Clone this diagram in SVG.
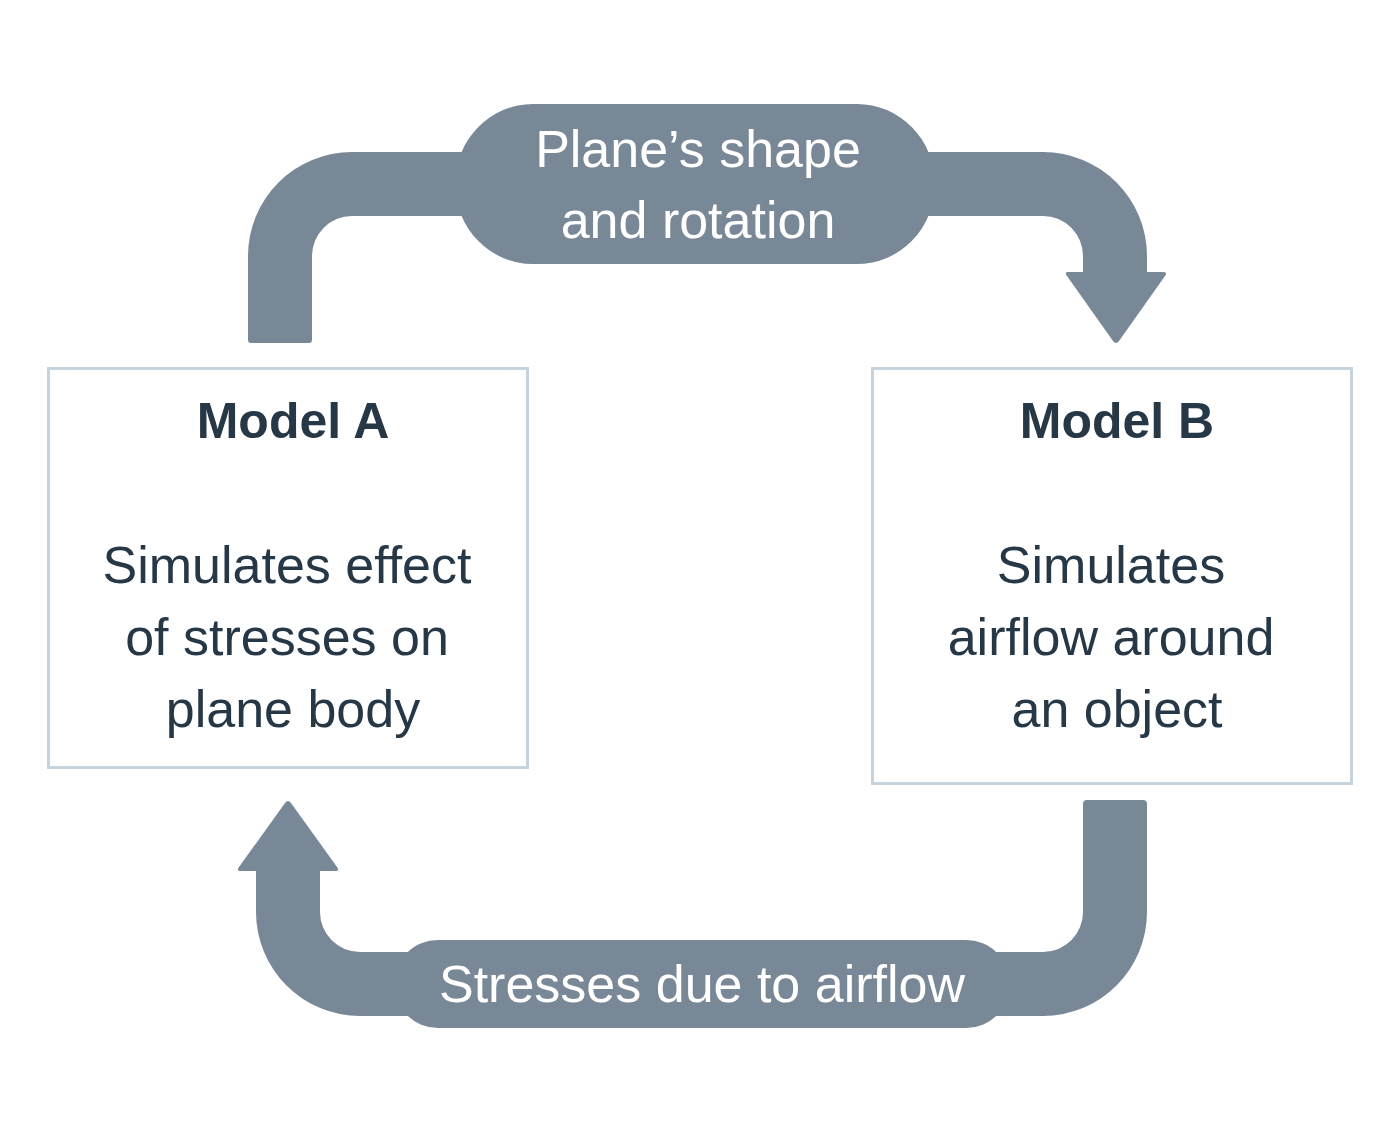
<svg xmlns="http://www.w3.org/2000/svg" width="1400" height="1132" viewBox="0 0 1400 1132">
  <style>
    .flow { fill: #798897; }
    .box { fill: #ffffff; stroke: #c6d2dc; stroke-width: 3; }
    .t { font-family: "Liberation Sans", Arial, sans-serif; font-size: 52px; text-anchor: middle; }
    .dark { fill: #263746; }
    .light { fill: #ffffff; }
    .b { font-weight: bold; font-size: 50px; }
  </style>
  <rect width="1400" height="1132" fill="#ffffff"/>
  <g id="connectors">
    <g id="top-connector">
      <path class="flow" d="M 248,340 L 248,256 A 104 104 0 0 1 352,152 L 1043,152 A 104 104 0 0 1 1147,256 L 1147,273 L 1083,273 L 1083,256 A 40 40 0 0 0 1043,216 L 352,216 A 40 40 0 0 0 312,256 L 312,340 Q 312,343 309,343 L 251,343 Q 248,343 248,340 Z"/>
      <path class="flow" d="M 1068,272 L 1163,272 Q 1168,272 1165,276 L 1119,341 Q 1116,345 1113,341 L 1067,276 Q 1064,272 1068,272 Z"/>
      <rect class="flow" x="455" y="104" width="480" height="160" rx="78" ry="80"/>
      <text class="t light" x="698" y="167">Plane’s shape</text>
      <text class="t light" x="698" y="238">and rotation</text>
    </g>
    <g id="bottom-connector">
      <path class="flow" d="M 1083,804 Q 1083,800 1087,800 L 1143,800 Q 1147,800 1147,804 L 1147,912 A 104 104 0 0 1 1043,1016 L 360,1016 A 104 104 0 0 1 256,912 L 256,870 L 320,870 L 320,912 A 40 40 0 0 0 360,952 L 1043,952 A 40 40 0 0 0 1083,912 Z"/>
      <path class="flow" d="M 241,871 L 335,871 Q 340,871 337,867 L 291,803 Q 288,799 285,803 L 239,867 Q 236,871 241,871 Z"/>
      <rect class="flow" x="394" y="940" width="616" height="88" rx="44" ry="44"/>
      <text class="t light" x="702" y="1002">Stresses due to airflow</text>
    </g>
  </g>
  <g id="model-a">
    <rect class="box" x="48.5" y="368.5" width="479" height="399"/>
    <text class="t dark b" x="293" y="438">Model A</text>
    <text class="t dark" x="287" y="583">Simulates effect</text>
    <text class="t dark" x="287" y="655">of stresses on</text>
    <text class="t dark" x="293" y="727">plane body</text>
  </g>
  <g id="model-b">
    <rect class="box" x="872.5" y="368.5" width="479" height="415"/>
    <text class="t dark b" x="1117" y="438">Model B</text>
    <text class="t dark" x="1111" y="583">Simulates</text>
    <text class="t dark" x="1111" y="655">airflow around</text>
    <text class="t dark" x="1117" y="727">an object</text>
  </g>
</svg>
